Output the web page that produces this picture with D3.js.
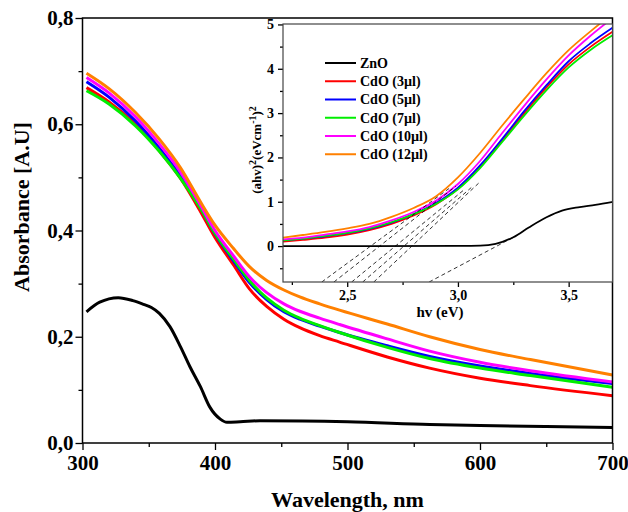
<!DOCTYPE html>
<html lang="en">
<head>
<meta charset="UTF-8">
<title>Absorbance spectra with Tauc plot inset</title>
<script src="https://d3js.org/d3.v7.min.js"></script>
<style>
  body { margin: 0; background: #fff; }
  svg { display: block; font-family: "Liberation Serif", "Times New Roman", serif; font-weight: bold; }
</style>
</head>
<body>
<div id="chart"></div>
<script>
// ---- main plot data (absorbance vs wavelength) ----
const wavelength = [303, 320, 340, 358, 374, 389, 400, 414, 426, 439, 452, 464, 479, 494, 530, 562, 600, 638, 700];
const absCdO3  = [0.669, 0.642, 0.600, 0.550, 0.498, 0.436, 0.387, 0.335, 0.290, 0.257, 0.233, 0.217, 0.202, 0.190, 0.162, 0.141, 0.122, 0.108, 0.089];
const absCdO5  = [0.680, 0.651, 0.606, 0.555, 0.502, 0.443, 0.394, 0.343, 0.302, 0.270, 0.247, 0.233, 0.220, 0.208, 0.183, 0.163, 0.145, 0.131, 0.112];
const absCdO7  = [0.663, 0.638, 0.597, 0.549, 0.498, 0.442, 0.395, 0.346, 0.306, 0.273, 0.250, 0.235, 0.221, 0.208, 0.180, 0.159, 0.141, 0.127, 0.105];
const absCdO10 = [0.688, 0.659, 0.614, 0.563, 0.510, 0.448, 0.400, 0.352, 0.313, 0.283, 0.262, 0.248, 0.235, 0.223, 0.196, 0.173, 0.152, 0.136, 0.115];
const absCdO12 = [0.696, 0.667, 0.622, 0.572, 0.518, 0.454, 0.410, 0.366, 0.332, 0.306, 0.288, 0.275, 0.262, 0.250, 0.224, 0.200, 0.176, 0.157, 0.128];

const wavelengthZnO = [303, 313, 327, 338, 346, 352, 358, 366, 374, 381, 389, 396, 404, 409, 419, 434, 500, 562, 600, 650, 700];
const absZnO = [0.247, 0.265, 0.2735, 0.268, 0.261, 0.255, 0.244, 0.219, 0.181, 0.144, 0.106, 0.068, 0.045, 0.039, 0.040, 0.042, 0.040, 0.035, 0.033, 0.031, 0.029];

const xTicks = [300, 400, 500, 600, 700];
const xMinor = [350, 450, 550, 650];
const yTicks = [0, 0.2, 0.4, 0.6, 0.8];
const yMinor = [0.1, 0.3, 0.5, 0.7];

// ---- inset data (Tauc plot) ----
const energy = [2.21, 2.3, 2.4, 2.5, 2.6, 2.7, 2.8, 2.9, 3.0, 3.1, 3.2, 3.3, 3.4, 3.5, 3.6, 3.7];
const taucCdO3  = [0.10, 0.14, 0.19, 0.26, 0.36, 0.50, 0.69, 0.94, 1.29, 1.79, 2.39, 3.00, 3.58, 4.10, 4.50, 4.84];
const taucCdO5  = [0.13, 0.17, 0.22, 0.29, 0.39, 0.53, 0.72, 0.97, 1.32, 1.82, 2.42, 3.05, 3.63, 4.17, 4.58, 4.93];
const taucCdO7  = [0.13, 0.17, 0.23, 0.30, 0.40, 0.54, 0.72, 0.95, 1.28, 1.76, 2.35, 2.95, 3.52, 4.03, 4.43, 4.76];
const taucCdO10 = [0.15, 0.19, 0.26, 0.33, 0.43, 0.58, 0.77, 1.02, 1.40, 1.92, 2.55, 3.17, 3.76, 4.30, 4.75, 5.15];
const taucCdO12 = [0.19, 0.25, 0.32, 0.40, 0.50, 0.66, 0.86, 1.12, 1.55, 2.10, 2.72, 3.32, 3.90, 4.42, 4.85, 5.25];

const energyZnO = [2.21, 2.6, 3.0, 3.1, 3.17, 3.25, 3.32, 3.40, 3.47, 3.55, 3.62, 3.70];
const taucZnO = [0.0, 0.0, 0.005, 0.01, 0.05, 0.20, 0.42, 0.65, 0.80, 0.88, 0.93, 1.0];

// tangent (band gap) lines: [start, end]
const tangentE = [[2.385, 2.96], [2.44, 2.99], [2.52, 3.03], [2.57, 3.06], [2.62, 3.10], [2.87, 3.27]];
const tangentV = [[-0.81, 1.30], [-0.81, 1.35], [-0.81, 1.28], [-0.81, 1.32], [-0.81, 1.45], [-0.81, 0.25]];

const eTicks = [2.5, 3.0, 3.5];
const eMinor = [2.25, 2.75, 3.25];
const vTicks = [0, 1, 2, 3, 4, 5];
const vMinor = [-0.5, 0.5, 1.5, 2.5, 3.5, 4.5];

const seriesNames = ["ZnO", "CdO (3\u00b5l)", "CdO (5\u00b5l)", "CdO (7\u00b5l)", "CdO (10\u00b5l)", "CdO (12\u00b5l)"];
const seriesColors = ["#000000", "#ff0000", "#0000ff", "#00ee00", "#ff00ff", "#ff8000"];

const width = 628, height = 512;
const fontFam = "Liberation Serif, Times New Roman, serif";
const svg = d3.select("#chart").append("svg").attr("width", width).attr("height", height)
  .attr("font-family", fontFam).attr("font-weight", "bold");

const comma = v => String(v.toFixed(1)).replace(".", ",");

// ---------- main plot ----------
const x = d3.scaleLinear().domain([300, 700]).range([82.5, 612.5]);
const y = d3.scaleLinear().domain([0, 0.8]).range([443, 18]);

const mainSeries = [
  { x: wavelengthZnO, y: absZnO },
  { x: wavelength, y: absCdO3 },
  { x: wavelength, y: absCdO5 },
  { x: wavelength, y: absCdO7 },
  { x: wavelength, y: absCdO10 },
  { x: wavelength, y: absCdO12 }
];

const line = d3.line().curve(d3.curveMonotoneX).x(d => x(d[0])).y(d => y(d[1]));
mainSeries.forEach((s, i) => {
  svg.append("path")
    .datum(s.x.map((v, k) => [v, s.y[k]]))
    .attr("fill", "none")
    .attr("stroke", seriesColors[i])
    .attr("stroke-width", 3)
    .attr("stroke-linejoin", "round")
    .attr("d", line);
});

function styleAxis(g, size) {
  g.attr("font-family", fontFam).attr("font-weight", "bold");
  g.selectAll("text").attr("font-size", size).attr("fill", "#000");
  g.selectAll("line").attr("stroke", "#000").attr("stroke-width", 1.3);
  g.select(".domain").remove();
}

svg.append("g").attr("transform", "translate(0,443)")
  .call(d3.axisBottom(x).tickValues(xTicks).tickSize(7).tickPadding(5).tickFormat(d3.format("d")))
  .call(g => styleAxis(g, 21));
svg.append("g").attr("transform", "translate(0,443)")
  .call(d3.axisBottom(x).tickValues(xMinor).tickSize(4).tickFormat(""))
  .call(g => styleAxis(g, 21));
svg.append("g").attr("transform", "translate(82.5,0)")
  .call(d3.axisLeft(y).tickValues(yTicks).tickSize(7).tickPadding(2).tickFormat(comma))
  .call(g => styleAxis(g, 21));
svg.append("g").attr("transform", "translate(82.5,0)")
  .call(d3.axisLeft(y).tickValues(yMinor).tickSize(4).tickFormat(""))
  .call(g => styleAxis(g, 21));

svg.append("rect")
  .attr("x", x(300)).attr("y", y(0.8))
  .attr("width", x(700) - x(300)).attr("height", y(0) - y(0.8))
  .attr("fill", "none").attr("stroke", "#000").attr("stroke-width", 1.5);

svg.append("text")
  .attr("x", (x(300) + x(700)) / 2).attr("y", 507)
  .attr("text-anchor", "middle").attr("font-size", 22)
  .text("Wavelength, nm");
svg.append("text")
  .attr("transform", "translate(29,207) rotate(-90)")
  .attr("text-anchor", "middle").attr("font-size", 22)
  .text("Absorbance [A.U]");

// ---------- inset ----------
const ix = d3.scaleLinear().domain([2.21, 3.698]).range([283, 612.5]);
const iy = d3.scaleLinear().domain([-0.81, 5.01]).range([282, 24]);
const box = { x: ix.range()[0], y: iy.range()[1], w: ix.range()[1] - ix.range()[0], h: iy.range()[0] - iy.range()[1] };

svg.append("rect")
  .attr("x", box.x).attr("y", box.y).attr("width", box.w).attr("height", box.h)
  .attr("fill", "#fff");

svg.append("clipPath").attr("id", "inset-clip").append("rect")
  .attr("x", box.x).attr("y", box.y).attr("width", box.w).attr("height", box.h);

const inset = svg.append("g").attr("clip-path", "url(#inset-clip)");
const iline = d3.line().curve(d3.curveMonotoneX).x(d => ix(d[0])).y(d => iy(d[1]));

const insetSeries = [
  { x: energyZnO, y: taucZnO },
  { x: energy, y: taucCdO3 },
  { x: energy, y: taucCdO5 },
  { x: energy, y: taucCdO7 },
  { x: energy, y: taucCdO10 },
  { x: energy, y: taucCdO12 }
];
insetSeries.forEach((s, i) => {
  inset.append("path")
    .datum(s.x.map((v, k) => [v, s.y[k]]))
    .attr("fill", "none")
    .attr("stroke", seriesColors[i])
    .attr("stroke-width", 1.8)
    .attr("d", iline);
});

tangentE.forEach((e, i) => {
  inset.append("line")
    .attr("x1", ix(e[0])).attr("y1", iy(tangentV[i][0]))
    .attr("x2", ix(e[1])).attr("y2", iy(tangentV[i][1]))
    .attr("stroke", "#000").attr("stroke-width", 0.8)
    .attr("stroke-dasharray", "4,3");
});

svg.append("g").attr("transform", "translate(0,282)")
  .call(d3.axisBottom(ix).tickValues(eTicks).tickSize(5).tickPadding(3).tickFormat(comma))
  .call(g => styleAxis(g, 14));
svg.append("g").attr("transform", "translate(0,282)")
  .call(d3.axisBottom(ix).tickValues(eMinor).tickSize(3).tickFormat(""))
  .call(g => styleAxis(g, 14));
svg.append("g").attr("transform", "translate(283,0)")
  .call(d3.axisLeft(iy).tickValues(vTicks).tickSize(5).tickPadding(4).tickFormat(d3.format("d")))
  .call(g => styleAxis(g, 14));
svg.append("g").attr("transform", "translate(283,0)")
  .call(d3.axisLeft(iy).tickValues(vMinor).tickSize(3).tickFormat(""))
  .call(g => styleAxis(g, 14));

svg.append("rect")
  .attr("x", box.x).attr("y", box.y).attr("width", box.w).attr("height", box.h)
  .attr("fill", "none").attr("stroke", "#444").attr("stroke-width", 1.2);

svg.append("text")
  .attr("x", 440).attr("y", 317)
  .attr("text-anchor", "middle").attr("font-size", 15)
  .text("hv (eV)");

const ylab = svg.append("text")
  .attr("transform", "translate(261,150) rotate(-90)")
  .attr("text-anchor", "middle").attr("font-size", 13);
ylab.append("tspan").text("(ahv)");
ylab.append("tspan").attr("dy", -5).attr("font-size", 10).text("2");
ylab.append("tspan").attr("dy", 5).text("(eVcm");
ylab.append("tspan").attr("dy", -5).attr("font-size", 10).text("-1");
ylab.append("tspan").attr("dy", 5).text(")");
ylab.append("tspan").attr("dy", -5).attr("font-size", 10).text("2");

// legend
const legend = svg.append("g");
seriesNames.forEach((name, i) => {
  const ly = 63 + i * 18.25;
  legend.append("line")
    .attr("x1", 325).attr("x2", 356).attr("y1", ly).attr("y2", ly)
    .attr("stroke", seriesColors[i]).attr("stroke-width", 2);
  legend.append("text")
    .attr("x", 360).attr("y", ly).attr("dy", "0.35em")
    .attr("font-size", 14)
    .text(name);
});
</script>
</body>
</html>
